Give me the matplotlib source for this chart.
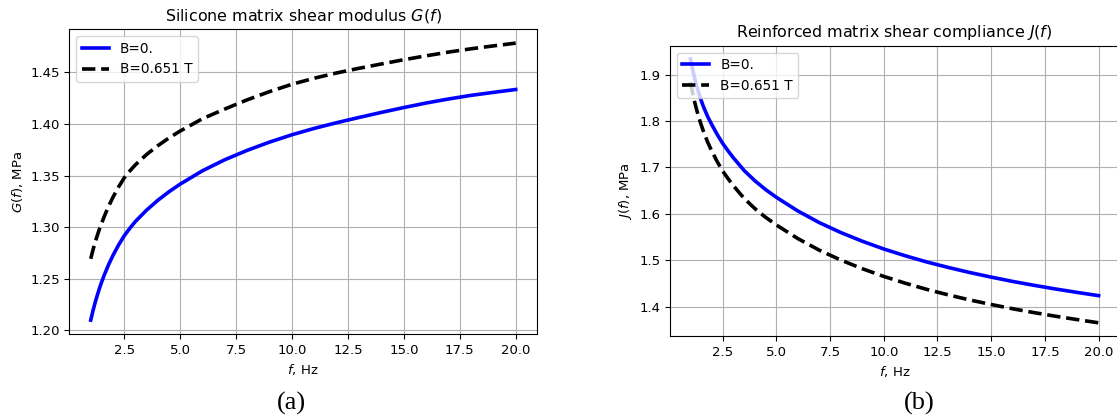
import matplotlib
matplotlib.use("Agg")
from matplotlib import pyplot as plt

# frequencies, Hz
f = [1, 1.1, 1.2, 1.3, 1.4, 1.5, 1.6, 1.8, 2, 2.25, 2.5, 2.75, 3, 3.5, 4, 4.5,
     5, 6, 7, 8, 9, 10, 11, 12, 13, 14, 15, 16, 17, 18, 19, 20]

# (a) silicone matrix shear modulus G(f), MPa
G_B0 = [1.2097, 1.2188, 1.2269, 1.2343, 1.2412, 1.2474, 1.2532, 1.2636, 1.2727,
        1.2828, 1.2916, 1.2989, 1.3055, 1.3165, 1.3260, 1.3343, 1.3417, 1.3547,
        1.3654, 1.3745, 1.3825, 1.3896, 1.3958, 1.4013, 1.4064, 1.4113, 1.4160,
        1.4204, 1.4243, 1.4278, 1.4307, 1.4335]
G_B1 = [1.2692, 1.2778, 1.2854, 1.2923, 1.2987, 1.3044, 1.3101, 1.3203, 1.3292,
        1.3391, 1.3478, 1.3545, 1.3605, 1.3705, 1.3790, 1.3865, 1.3932, 1.4052,
        1.4146, 1.4235, 1.4315, 1.4386, 1.4445, 1.4496, 1.4541, 1.4583, 1.4624,
        1.4662, 1.4698, 1.4730, 1.4758, 1.4785]

# (b) reinforced matrix shear compliance J(f), MPa
J_B0 = [1.9336, 1.9116, 1.8916, 1.8743, 1.8584, 1.8446, 1.8318, 1.8099, 1.7917,
        1.7710, 1.7520, 1.7360, 1.7209, 1.6936, 1.6715, 1.6525, 1.6359, 1.6065,
        1.5814, 1.5601, 1.5414, 1.5247, 1.5101, 1.4968, 1.4850, 1.4741, 1.4642,
        1.4549, 1.4465, 1.4386, 1.4313, 1.4243]
J_B1 = [1.8836, 1.8611, 1.8406, 1.8228, 1.8064, 1.7921, 1.7788, 1.7549, 1.7347,
        1.7125, 1.6925, 1.6762, 1.6609, 1.6336, 1.6117, 1.5929, 1.5764, 1.5471,
        1.5221, 1.5009, 1.4823, 1.4657, 1.4511, 1.4378, 1.4260, 1.4151, 1.4053,
        1.3961, 1.3878, 1.3800, 1.3728, 1.3659]

labels = ["B=0.", "B=0.651 T"]

plt.rcParams["font.size"] = 9.5
plt.rcParams["axes.titlesize"] = 11.4
plt.rcParams["legend.fontsize"] = 9.8

fig = plt.figure(figsize=(11.17, 4.2), dpi=100)

ax1 = fig.add_axes([0.0622, 0.2048, 0.4185, 0.7255])
ax1.plot(f, G_B0, color="b", lw=2.6, label=labels[0])
ax1.plot(f, G_B1, color="k", lw=2.6, ls="--", label=labels[1])
ax1.set_title("Silicone matrix shear modulus $G(f)$")
ax1.set_xlabel("$f$, Hz")
ax1.set_ylabel("$G(f)$, MPa")
ax1.grid(True)
ax1.legend(loc="upper left")

ax2 = fig.add_axes([0.5998, 0.2, 0.402, 0.6912])
ax2.plot(f, J_B0, color="b", lw=2.6, label=labels[0])
ax2.plot(f, J_B1, color="k", lw=2.6, ls="--", label=labels[1])
ax2.set_title("Reinforced matrix shear compliance $J(f)$")
ax2.set_xlabel("$f$, Hz")
ax2.set_ylabel("$J(f)$, MPa")
ax2.grid(True)
ax2.legend(loc="upper left")

# подписи (a), (b)
fig.text(291 / 1117, 1 - 403 / 420, "(a)", family="Liberation Serif", size=19,
         ha="center", va="center")
fig.text(919 / 1117, 1 - 403 / 420, "(b)", family="Liberation Serif", size=19,
         ha="center", va="center")

fig.savefig("out.png", dpi=100)
